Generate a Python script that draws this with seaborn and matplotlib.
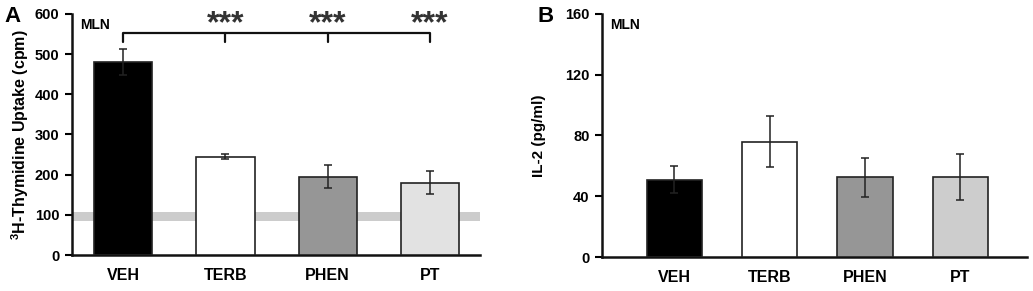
import numpy as np
import pandas as pd
import matplotlib
matplotlib.use('Agg')
import matplotlib.pyplot as plt
import seaborn as sns

# Data
groups = ['VEH', 'TERB', 'PHEN', 'PT']
thym_mean = [480, 245, 195, 180]
thym_sem = [33, 7, 28, 28]
il2_mean = [51, 76, 52.5, 52.5]
il2_sem = [9, 17, 13, 15]
colors_a = ['#000000', '#ffffff', '#969696', '#e2e2e2']
colors_b = ['#000000', '#ffffff', '#969696', '#cdcdcd']
band_lo, band_hi = 85, 107
bracket_y = 553
stars = ['***'] * 3

sns.set_style('white')
plt.rcParams['font.family'] = ['Liberation Sans', 'DejaVu Sans']
plt.rcParams['font.weight'] = 'bold'
plt.rcParams['text.color'] = 'black'
plt.rcParams['axes.labelcolor'] = 'black'
plt.rcParams['xtick.color'] = 'black'
plt.rcParams['ytick.color'] = 'black'

fig = plt.figure(figsize=(10.33, 2.91), dpi=100)
ax_a = fig.add_axes([0.0697, 0.1237, 0.395, 0.8283])
ax_b = fig.add_axes([0.5828, 0.1168, 0.4114, 0.8352])


def draw_panel(ax, means, sems, colors, xlim, ylim, yticks, width):
    df = pd.DataFrame({'group': groups, 'value': means})
    sns.barplot(data=df, x='group', y='value', hue='group', palette=colors,
                order=groups, hue_order=groups, legend=False, ax=ax,
                width=width, edgecolor='#222222', linewidth=1.2, zorder=3)
    ax.errorbar(np.arange(len(groups)), means, yerr=sems, fmt='none',
                ecolor='#222222', elinewidth=1.1, capsize=3, capthick=1.1, zorder=4)
    ax.set_xlim(*xlim)
    ax.set_ylim(*ylim)
    ax.set_yticks(yticks)
    ax.set_xlabel('')
    for s in ['top', 'right']:
        ax.spines[s].set_visible(False)
    for s in ['left', 'bottom']:
        ax.spines[s].set_linewidth(1.8)
        ax.spines[s].set_color('#111111')
    ax.tick_params(axis='y', direction='out', length=5, width=1.5, labelsize=10.5, pad=4, left=True)
    ax.tick_params(axis='x', length=0, labelsize=11.5, pad=9)
    for lbl in ax.get_xticklabels() + ax.get_yticklabels():
        lbl.set_fontweight('bold')
    ax.text(0.02, 0.985, 'MLN', transform=ax.transAxes, fontsize=10,
            fontweight='bold', va='top', ha='left')


# Panel A
draw_panel(ax_a, thym_mean, thym_sem, colors_a, (-0.5, 3.49), (0, 600),
           [0, 100, 200, 300, 400, 500, 600], 0.57)
ax_a.axhspan(band_lo, band_hi, color='#cccccc', zorder=1, lw=0)
ax_a.set_ylabel('$\\mathregular{^3}$H-Thymidine Uptake (cpm)', fontsize=11.5,
                fontweight='bold', labelpad=3)
ax_a.plot([0, 3], [bracket_y, bracket_y], color='#111111', lw=1.6, zorder=5,
          solid_capstyle='butt')
ax_a.plot([0, 0], [bracket_y, bracket_y - 22], color='#111111', lw=1.6, zorder=5)
for i, st in enumerate(stars, start=1):
    ax_a.plot([i, i], [bracket_y, bracket_y - 22], color='#111111', lw=1.6, zorder=5)
    ax_a.text(i, 574, st, ha='center', va='center', fontsize=23,
              color='#333333', fontweight='bold')
fig.text(0.004, 0.945, 'A', fontsize=16, fontweight='bold', va='center')

# Panel B
draw_panel(ax_b, il2_mean, il2_sem, colors_b, (-0.76, 3.70), (0, 160),
           [0, 40, 80, 120, 160], 0.58)
ax_b.set_ylabel('IL-2 (pg/ml)', fontsize=11, fontweight='bold', labelpad=14)
fig.text(0.52, 0.945, 'B', fontsize=16, fontweight='bold', va='center')

fig.savefig('out.png', dpi=100)
